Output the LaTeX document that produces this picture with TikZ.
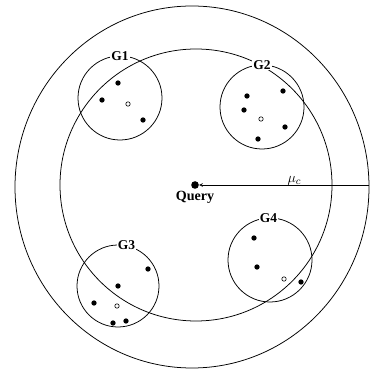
\documentclass[tikz,border=0pt]{standalone}
\usepackage{fontspec}
\setmainfont{Liberation Serif}
\usetikzlibrary{positioning}
\begin{document}
\begin{tikzpicture}[x=0.03cm,y=0.03cm,line width=0.65pt,
  group/.style={circle,draw,inner sep=0pt,minimum size=2.52cm},
  member/.style={circle,fill,inner sep=0pt,minimum size=4.5pt},
  centroid/.style={circle,draw,fill=white,inner sep=0pt,minimum size=3.8pt,line width=0.5pt},
  grouplabel/.style={fill=white,inner sep=1pt,font=\fontsize{11.5}{12}\selectfont\bfseries}]
\useasboundingbox (0,0) rectangle (369,371);
\draw (192,184) ellipse [x radius=177,y radius=181];
\draw (196,186) circle [radius=136];
\node[group] (g1) at (120,273) {};
\node[group] (g2) at (262,264) {};
\node[group,minimum size=2.46cm] (g3) at (118,85) {};
\node[group] (g4) at (270,111) {};
\node[grouplabel] (g1label) at (g1.90) {G1};
\node[grouplabel] (g2label) at (g2.90) {G2};
\node[grouplabel] (g3label) at (g3.78) {G3};
\node[grouplabel] (g4label) at (g4.92) {G4};
\node[member,minimum size=6.5pt] (query) at (195,186) {};
\node[below=0pt of query,inner sep=1pt,font=\fontsize{12}{13}\selectfont\bfseries] (querylabel) {Query};
\coordinate (edge) at (369,186);
\draw[-stealth,line width=0.4pt] (edge) -- (query) node[pos=0.44,above,inner sep=0pt,font=\fontsize{13}{14}\selectfont] {$\mu_c$};
\node[member] at (118,288) {};
\node[member] at (102,271) {};
\node[member] at (143,251) {};
\node[centroid] at (128,267) {};
\node[member] at (247,275) {};
\node[member] at (283,280) {};
\node[member] at (244,261) {};
\node[member] at (285,244) {};
\node[member] at (258,232) {};
\node[centroid] at (261,252) {};
\node[member] at (148,102) {};
\node[member] at (118,85) {};
\node[member] at (94,68) {};
\node[member] at (113,48) {};
\node[member] at (126,50) {};
\node[centroid] at (117,65) {};
\node[member] at (254,133) {};
\node[member] at (257,104) {};
\node[member] at (301,89) {};
\node[centroid] at (284,92) {};
\end{tikzpicture}
\end{document}
